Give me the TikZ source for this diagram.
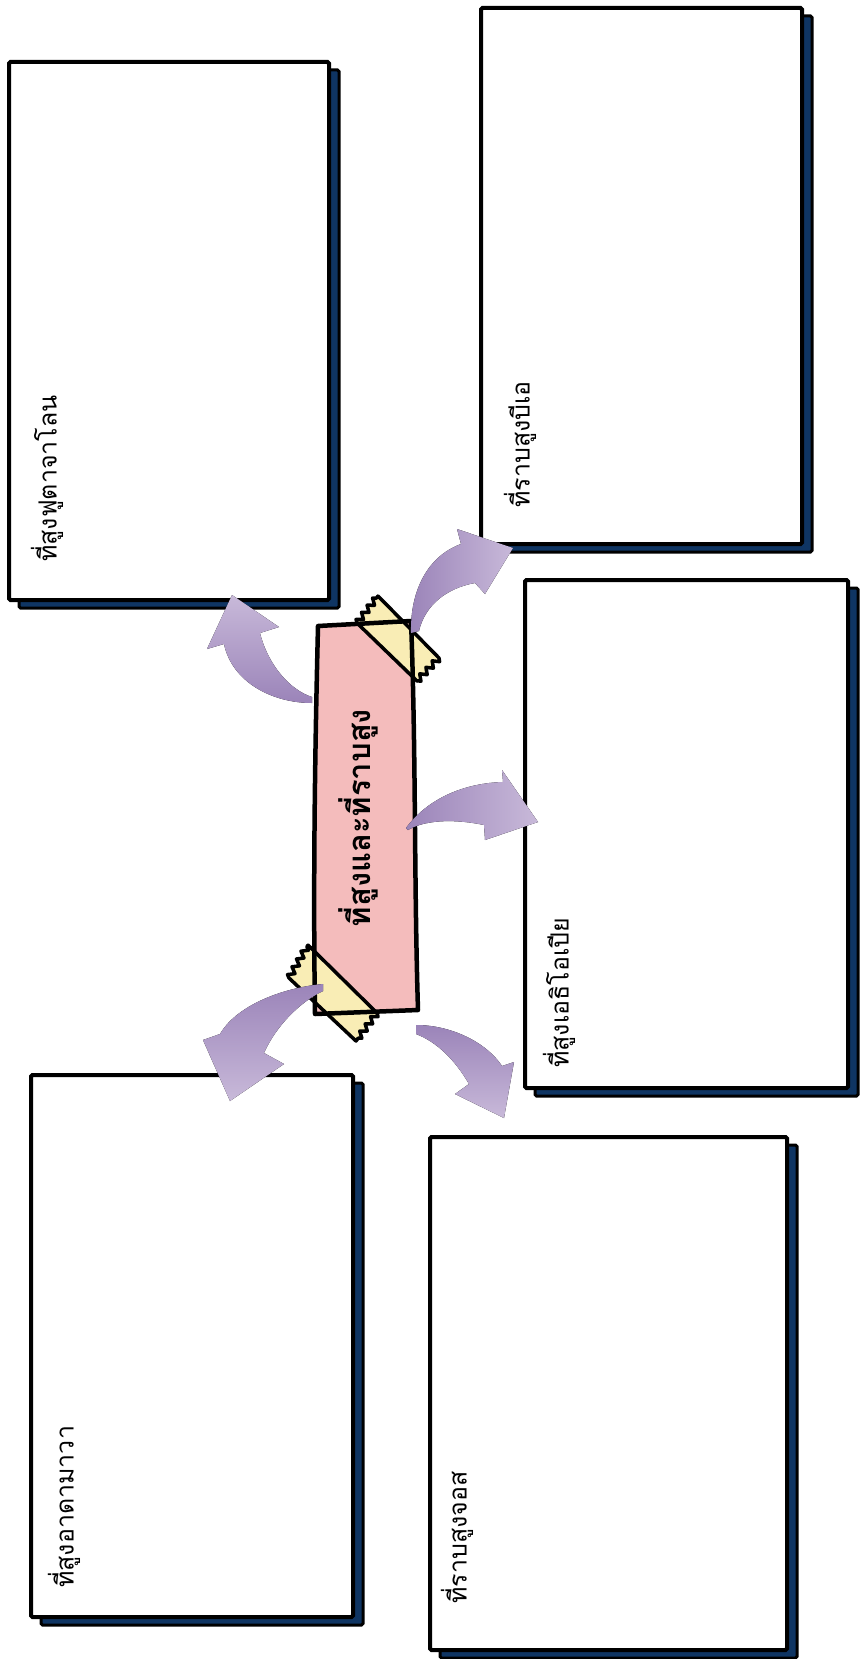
\documentclass[tikz,border=0pt]{standalone}
\usepackage{fontspec}
\newfontfamily\thaifont[Script=Thai]{Loma}
\usetikzlibrary{shadows, decorations.pathmorphing}
\definecolor{navy}{HTML}{0F3563}
\definecolor{bannerpink}{HTML}{F4BCBC}
\definecolor{tapeyellow}{HTML}{F9EDB5}
\definecolor{arrowdark}{HTML}{9B84B9}
\definecolor{arrowlight}{HTML}{C8B9D9}

\begin{document}
\begin{tikzpicture}[x=1pt, y=-1pt,
  panel/.style={draw=black, line width=4pt, fill=white, rounded corners=1.5pt,
    inner sep=0pt, anchor=north west,
    drop shadow={shadow xshift=10pt, shadow yshift=-8pt, fill=navy,
      draw=black, line width=3pt, opacity=1}},
  lbl/.style={font=\thaifont\fontsize{25}{29}\selectfont, rotate=90,
    anchor=west, inner sep=0pt},
  tape/.style={fill=tapeyellow, draw=black, line width=3.5pt, line join=round,
    decoration={zigzag, segment length=9pt, amplitude=3pt}},
  title/.style={font=\thaifont\bfseries\fontsize{31}{35}\selectfont, rotate=90,
    inner sep=0pt},
]
\useasboundingbox (0,0) rectangle (865,1659);
% ---- the five panels ----
\node[panel, minimum width=320pt, minimum height=538pt] (futa) at (7,60) {};
\node[panel, minimum width=321pt, minimum height=536pt] (bie) at (479,6) {};
\node[panel, minimum width=323pt, minimum height=508pt] (ethiopia) at (523,578) {};
\node[panel, minimum width=322pt, minimum height=542pt] (adamawa) at (29,1073) {};
\node[panel, minimum width=357pt, minimum height=513pt] (jos) at (428,1135) {};
% ---- panel labels ----
\node[lbl] (futalbl) at (47,562) {ที่สูงฟูตาจาโลน};
\node[lbl] (bielbl) at (520,508) {ที่ราบสูงบีเอ};
\node[lbl] (ethiopialbl) at (559,1068) {ที่สูงเอธิโอเปีย};
\node[lbl] (adamawalbl) at (64,1588) {ที่สูงอาดามาวา};
\node[lbl] (joslbl) at (457,1604) {ที่ราบสูงจอส};
% ---- banner with tape ----
\fill[bannerpink] (318,626) -- (411,621) .. controls (416,750) and (414,880) .. (418,1010)
  -- (315,1014) .. controls (313,880) and (315,750) .. (318,626) -- cycle;
\path[tape] (378,596) -- (439,658) decorate {-- (417,681)} -- (357,623)
  decorate {-- (378,596)} -- cycle;
\path[tape] (308,945) -- (377,1013) decorate {-- (356,1041)} -- (289,978)
  decorate {-- (308,945)} -- cycle;
\draw[line width=4.5pt, line join=round] (318,626) -- (411,621)
  .. controls (416,750) and (414,880) .. (418,1010)
  -- (315,1014) .. controls (313,880) and (315,750) .. (318,626) -- cycle;
\node[title] (banner) at (358,818) {ที่สูงและที่ราบสูง};
% ---- curved arrows ----
\fill[top color=arrowlight, bottom color=arrowdark]
  (312,703) .. controls (272,703) and (232,682) .. (224,644) -- (207,649)
  -- (232,595) -- (279,627) -- (260,633)
  .. controls (268,665) and (290,690) .. (312,697) -- cycle;
\fill[left color=arrowdark, right color=arrowlight]
  (411,633) .. controls (410,590) and (428,556) .. (461,544) -- (457,529)
  -- (513,548) -- (485,594) -- (475,583)
  .. controls (447,588) and (425,605) .. (419,631) -- cycle;
\fill[left color=arrowdark, right color=arrowlight]
  (406,828) .. controls (428,798) and (465,783) .. (503,782) -- (502,770)
  -- (538,822) -- (485,840) -- (484,825)
  .. controls (450,818) and (423,821) .. (408,830) -- cycle;
\fill[top color=arrowdark, bottom color=arrowlight]
  (323,984) .. controls (288,987) and (238,1003) .. (220,1034) -- (203,1040)
  -- (230,1101) -- (284,1064) -- (264,1053)
  .. controls (276,1026) and (300,1002) .. (323,991) -- cycle;
\fill[top color=arrowdark, bottom color=arrowlight]
  (416,1025) .. controls (452,1025) and (487,1043) .. (502,1066) -- (514,1062)
  -- (504,1118) -- (455,1094) -- (469,1084)
  .. controls (455,1060) and (437,1042) .. (416,1034) -- cycle;
\end{tikzpicture}
\end{document}
